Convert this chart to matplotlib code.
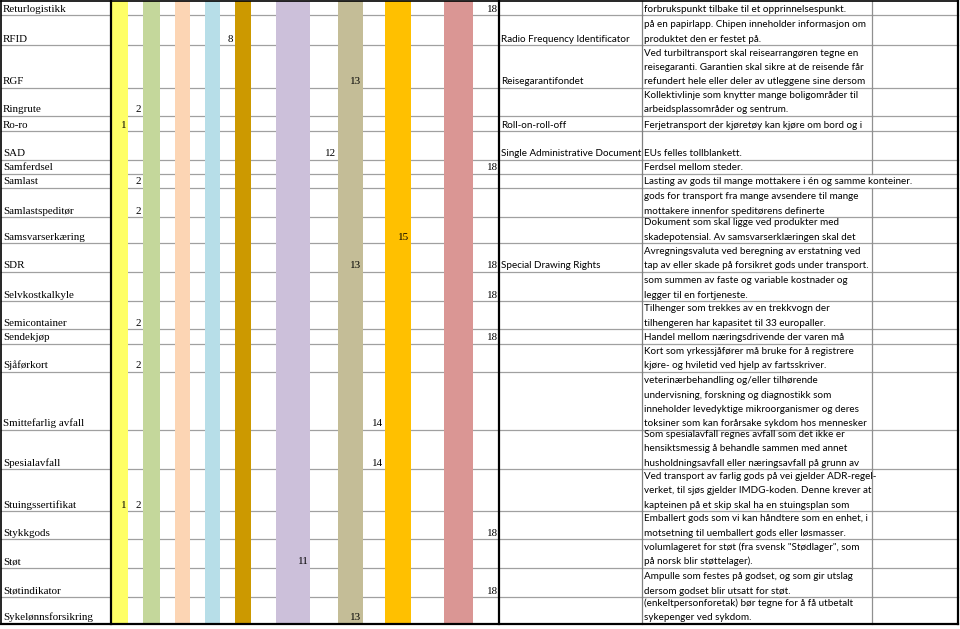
import matplotlib
matplotlib.use('Agg')
import matplotlib.pyplot as plt
from matplotlib.patches import Rectangle

# ---- sheet content ----
terms = ['Returlogistikk', 'RFID', 'RGF', 'Ringrute', 'Ro-ro', 'SAD', 'Samferdsel',
         'Samlast', 'Samlastspeditør', 'Samsvarserkæring', 'SDR', 'Selvkostkalkyle',
         'Semicontainer', 'Sendekjøp', 'Sjåførkort', 'Smittefarlig avfall',
         'Spesialavfall', 'Stuingssertifikat', 'Stykkgods', 'Støt', 'Støtindikator',
         'Sykelønnsforsikring']

numbers = [[18], [8], [13], [2], [1], [12], [18], [2], [2], [15], [13, 18], [18],
           [2], [18], [2], [14], [14], [1, 2], [18], [11], [18], [13]]

abbrev = ['', 'Radio Frequency Identificator', 'Reisegarantifondet', '',
          'Roll-on-roll-off', 'Single Administrative Document', '', '', '', '',
          'Special Drawing Rights', '', '', '', '', '', '', '', '', '', '', '']

descriptions = [
    ['forbrukspunkt tilbake til et opprinnelsespunkt.'],
    ['på en papirlapp. Chipen inneholder informasjon om',
     'produktet den er festet på.'],
    ['Ved turbiltransport skal reisearrangøren tegne en',
     'reisegaranti. Garantien skal sikre at de reisende får',
     'refundert hele eller deler av utleggene sine dersom'],
    ['Kollektivlinje som knytter mange boligområder til',
     'arbeidsplassområder og sentrum.'],
    ['Ferjetransport der kjøretøy kan kjøre om bord og i'],
    ['EUs felles tollblankett.'],
    ['Ferdsel mellom steder.'],
    ['Lasting av gods til mange mottakere i én og samme konteiner.'],
    ['gods for transport fra mange avsendere til mange',
     'mottakere innenfor speditørens definerte'],
    ['Dokument som skal ligge ved produkter med',
     'skadepotensial. Av samsvarserklæringen skal det'],
    ['Avregningsvaluta ved beregning av erstatning ved',
     'tap av eller skade på forsikret gods under transport.'],
    ['som summen av faste og variable kostnader og',
     'legger til en fortjeneste.'],
    ['Tilhenger som trekkes av en trekkvogn der',
     'tilhengeren har kapasitet til 33 europaller.'],
    ['Handel mellom næringsdrivende der varen må'],
    ['Kort som yrkessjåfører må bruke for å registrere',
     'kjøre- og hviletid ved hjelp av fartsskriver.'],
    ['veterinærbehandling og/eller tilhørende',
     'undervisning, forskning og diagnostikk som',
     'inneholder levedyktige mikroorganismer og deres',
     'toksiner som kan forårsake sykdom hos mennesker'],
    ['Som spesialavfall regnes avfall som det ikke er',
     'hensiktsmessig å behandle sammen med annet',
     'husholdningsavfall eller næringsavfall på grunn av'],
    ['Ved transport av farlig gods på vei gjelder ADR-regel-',
     'verket, til sjøs gjelder IMDG-koden. Denne krever at',
     'kapteinen på et skip skal ha en stuingsplan som'],
    ['Emballert gods som vi kan håndtere som en enhet, i',
     'motsetning til uemballert gods eller løsmasser.'],
    ['volumlageret for støt (fra svensk "Stødlager", som',
     'på norsk blir støttelager).'],
    ['Ampulle som festes på godset, og som gir utslag',
     'dersom godset blir utsatt for støt.'],
    ['(enkeltpersonforetak) bør tegne for å få utbetalt',
     'sykepenger ved sykdom.'],
]

# ---- layout (pixels) ----
row_edges = [1, 15, 45, 88, 116, 131, 160, 174, 188, 217, 243, 272, 301, 329,
             344, 372, 430, 469, 511, 539, 568, 597, 624]
num_col_edges = [111, 128, 143, 160, 175, 190, 205, 220, 235, 251, 276, 310,
                 338, 363, 385, 411, 444, 473, 499]
x_abbrev, x_desc, x_last, x_right = 499, 642, 872, 958
stripe_colors = ['#FFFF66', '#C4D79B', '#FCD5B4', '#B7DEE8', '#CC9900',
                 '#CCC0DA', '#C4BD97', '#FFC000', '#DA9694']

serif = 'Liberation Serif'
sans = 'Lato'
fs_serif = 7.9
fs_sans = 7.15
line_h = 14.4
pad_b = 3.5

fig = plt.figure(figsize=(9.6, 6.29), dpi=100)
ax = fig.add_axes([0, 0, 1, 1])
ax.set_xlim(0, 960)
ax.set_ylim(629, 0)
ax.axis('off')

grid_c = '#a0a0a0'
# horizontal gridlines
for y in row_edges[1:-1]:
    ax.plot([1, x_right], [y, y], color=grid_c, lw=0.9, zorder=1)

# coloured stripes (odd columns)
for k, c in enumerate(stripe_colors):
    i = 2 * k
    x0, x1 = num_col_edges[i], num_col_edges[i + 1]
    if i == 0:
        x0 += 1
    ax.add_patch(Rectangle((x0, row_edges[0]), x1 - x0, row_edges[-1] - row_edges[0],
                           facecolor=c, edgecolor='none', zorder=2))

renderer = fig.canvas.get_renderer()

for r, term in enumerate(terms):
    top, bot = row_edges[r], row_edges[r + 1]
    base = bot - pad_b
    ax.text(3, base, term, family=serif, fontsize=fs_serif, va='baseline',
            ha='left', zorder=5)
    for n in numbers[r]:
        ax.text(num_col_edges[n] - 1.5, base, str(n), family=serif,
                fontsize=fs_serif, va='baseline', ha='right', zorder=5)
    if abbrev[r]:
        ax.text(x_abbrev + 2, base, abbrev[r], family=sans, fontsize=fs_sans,
                va='baseline', ha='left', zorder=5)
    lines = descriptions[r]
    overflow = False
    for j, txt in enumerate(lines):
        y = base - (len(lines) - 1 - j) * line_h
        t = ax.text(x_desc + 2, y, txt, family=sans, fontsize=fs_sans,
                    va='baseline', ha='left', zorder=5)
        if len(lines) > 1:
            # wrapped cell: text is cut at the top of the row
            clip_full = Rectangle((x_desc, top + 0.5), x_right - x_desc, bot - top,
                                  transform=ax.transData)
            t.set_clip_path(clip_full)
        else:
            w = t.get_window_extent(renderer).width
            if w > (x_last - x_desc - 4):
                overflow = True
    # vertical gridlines for this row
    ax.plot([x_desc, x_desc], [top, bot], color='#808080', lw=0.9, zorder=3)
    if not overflow:
        ax.plot([x_last, x_last], [top, bot], color='#909090', lw=0.9, zorder=3)

# black borders
ax.plot([1, x_right], [1, 1], color='black', lw=1.2, zorder=6)
ax.plot([1, x_right], [row_edges[-1], row_edges[-1]], color='black', lw=1.6, zorder=6)
ax.plot([1, 1], [1, row_edges[-1]], color='black', lw=1.2, zorder=6)
ax.plot([num_col_edges[0], num_col_edges[0]], [1, row_edges[-1]], color='black', lw=1.6, zorder=6)
ax.plot([x_abbrev, x_abbrev], [1, row_edges[-1]], color='black', lw=1.6, zorder=6)
ax.plot([x_right, x_right], [1, row_edges[-1]], color='black', lw=1.6, zorder=6)

fig.savefig('out.png', dpi=100)
